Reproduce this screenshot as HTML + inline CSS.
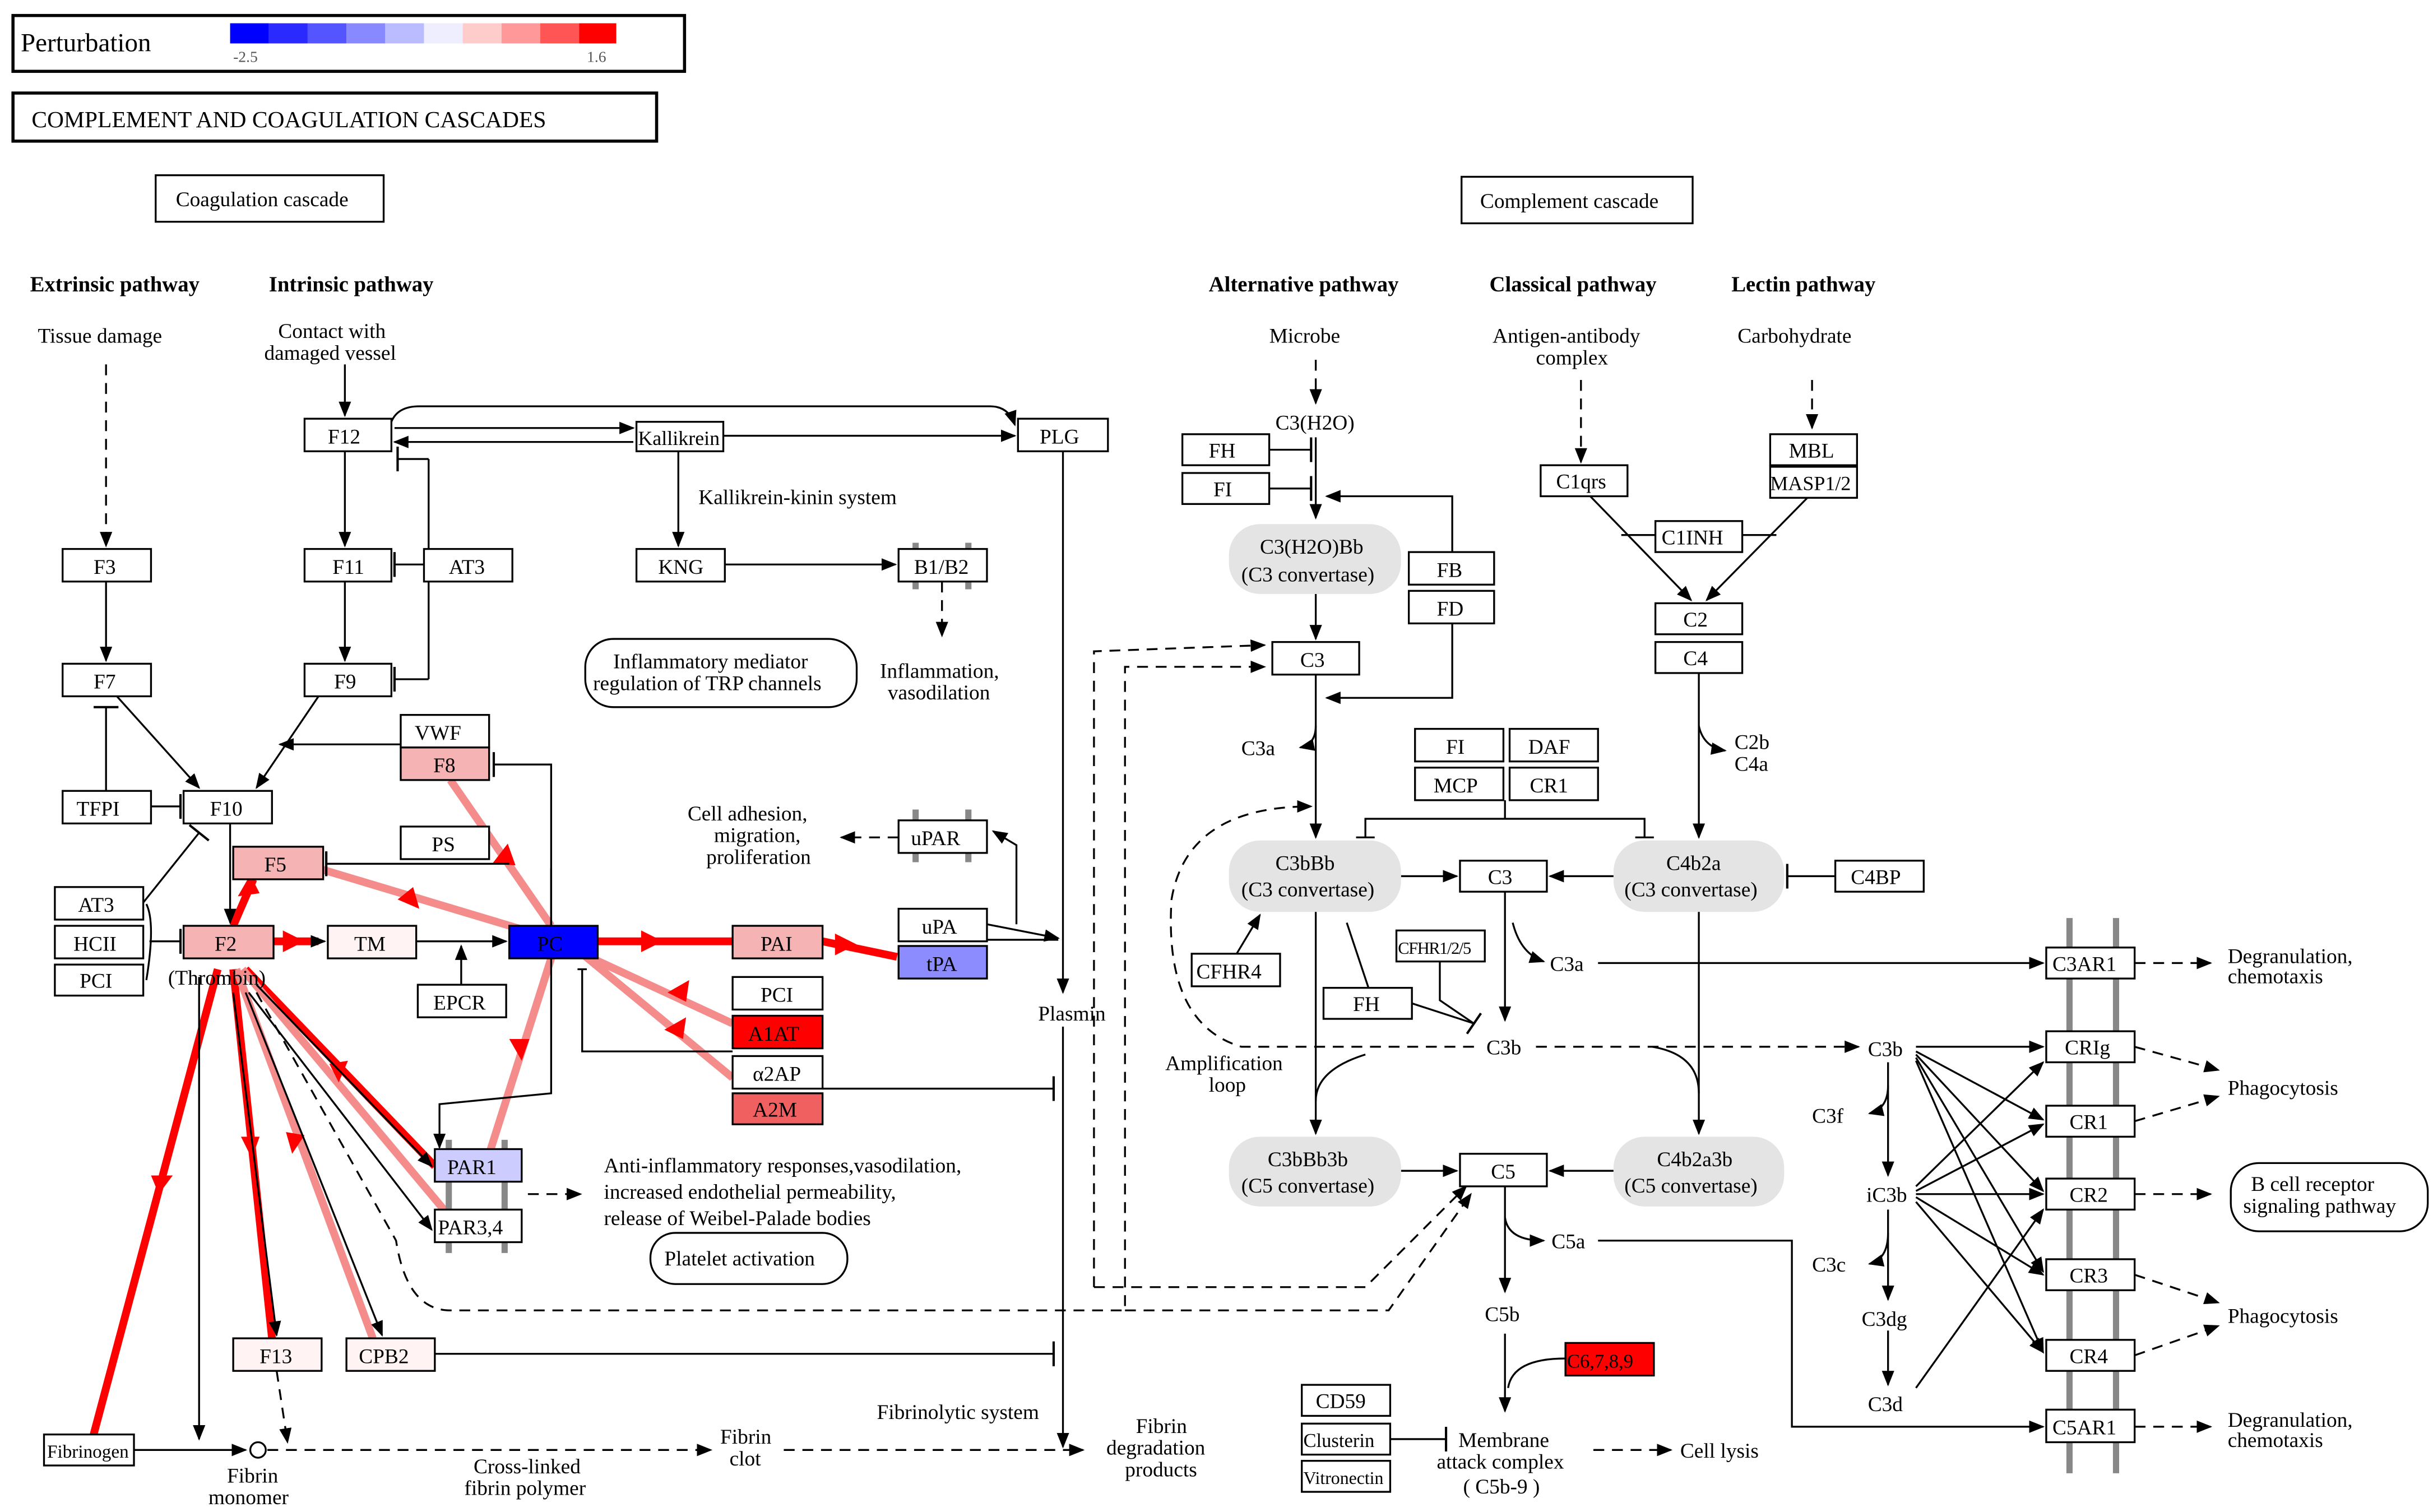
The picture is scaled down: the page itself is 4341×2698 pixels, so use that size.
<!DOCTYPE html>
<html><head><meta charset="utf-8"><style>
html,body{margin:0;padding:0;background:#fff;}
svg{display:block;}
text{font-family:"Liberation Serif",serif;font-size:13.5px;fill:#000;}
.n{fill:#fff;stroke:#000;stroke-width:1.2;}
.l{stroke:#000;stroke-width:1.2;fill:none;}
.d{stroke:#000;stroke-width:1.2;fill:none;stroke-dasharray:7,5;}
.r{stroke:#f00;stroke-width:5;fill:none;}
.p{stroke:#f48c8c;stroke-width:5;fill:none;}
.g{fill:#e4e4e4;}
.m{stroke:#888;stroke-width:4;}
.b{font-weight:bold;font-size:14px;}
</style></head><body>
<svg width="4341" height="2698" viewBox="0 0 1568 975" xmlns="http://www.w3.org/2000/svg">
<defs>
<marker id="a" markerWidth="10" markerHeight="10" refX="9" refY="5" orient="auto" markerUnits="userSpaceOnUse"><path d="M0,1 L10,5 L0,9 z" fill="#000"/></marker>
<marker id="t" markerWidth="4" markerHeight="16" refX="2" refY="8" orient="auto" markerUnits="userSpaceOnUse"><path d="M2,0 L2,16" stroke="#000" stroke-width="1.5"/></marker>
</defs>
<rect x="0" y="0" width="1568" height="975" fill="#fff"/>
<!-- legend -->
<rect x="8" y="10" width="433" height="36" class="n" style="stroke-width:2"/>
<text x="13" y="33" style="font-size:17px">Perturbation</text>
<rect x="148" y="15" width="25" height="13" fill="#0000ff"/><rect x="173" y="15" width="25" height="13" fill="#2a2aff"/><rect x="198" y="15" width="25" height="13" fill="#5555ff"/><rect x="223" y="15" width="25" height="13" fill="#8888ff"/><rect x="248" y="15" width="25" height="13" fill="#bbbbff"/><rect x="273" y="15" width="25" height="13" fill="#eeeeff"/><rect x="298" y="15" width="25" height="13" fill="#ffcccc"/><rect x="323" y="15" width="25" height="13" fill="#ff9999"/><rect x="348" y="15" width="25" height="13" fill="#ff5555"/><rect x="373" y="15" width="24" height="13" fill="#ff0000"/>
<text x="150" y="40" style="font-size:10px;fill:#555">-2.5</text><text x="378" y="40" style="font-size:10px;fill:#555">1.6</text>
<rect x="8" y="60" width="415" height="31" class="n" style="stroke-width:2"/>
<text x="20" y="82" style="font-size:15px">COMPLEMENT AND COAGULATION CASCADES</text>
<rect x="100" y="113" width="147" height="30" class="n"/><text x="113" y="133">Coagulation cascade</text>
<rect x="942" y="114" width="149" height="30" class="n"/><text x="954" y="134">Complement cascade</text>
<text x="19" y="188" class="b">Extrinsic pathway</text><text x="173" y="188" class="b">Intrinsic pathway</text>
<text x="779" y="188" class="b">Alternative pathway</text><text x="960" y="188" class="b">Classical pathway</text><text x="1116" y="188" class="b">Lectin pathway</text>
<text x="24" y="221">Tissue damage</text>
<text x="179" y="218">Contact with</text><text x="170" y="232">damaged vessel</text>
<text x="818" y="221">Microbe</text>
<text x="962" y="221">Antigen-antibody</text><text x="990" y="235">complex</text>
<text x="1120" y="221">Carbohydrate</text>

<!-- red/pink thick relations -->
<path class="p" d="M355,597 L290,503"/>
<path class="p" d="M355,605 L205,560"/>
<path class="r" d="M150,597 L163,567"/>
<path class="r" d="M176,607 L205,607"/>
<path class="r" d="M385,607 L472,607"/>
<path class="r" d="M530,607 L578,617"/>
<path class="p" d="M375,615 L472,660"/>
<path class="p" d="M375,615 L472,695"/>
<path class="p" d="M355,618 L310,760"/>
<path class="r" d="M140,625 L60,925"/>
<path class="r" d="M150,625 L175,863"/>
<path class="p" d="M152,625 L240,863"/>
<path class="r" d="M158,625 L280,752"/>
<path class="p" d="M156,625 L290,785"/>
<!-- red arrowheads -->
<g fill="#f00">
<path d="M97,758 l14,0 -9,12z"/><path d="M155,733 l12,0 -5,14z"/><path d="M184,730 l12,2 -8,12z"/><path d="M212,686 l12,-2 -6,14z"/>
<path d="M182,600 l14,7 -14,7z"/><path d="M413,600 l14,7 -14,7z"/><path d="M538,602 l14,7 -14,7z"/>
<path d="M270,586 l-14,-6 10,-8z"/><path d="M153,578 l8,-14 6,12z"/><path d="M317,557 l10,-13 5,14z"/>
<path d="M430,640 l14,-8 -2,14z"/><path d="M428,664 l14,-8 -2,14z"/><path d="M328,670 l8,14 5,-14z"/>
</g>

<!-- left black lines -->
<path class="d" d="M68,235 L68,352" marker-end="url(#a)"/>
<path class="l" d="M68,375 L68,426" marker-end="url(#a)"/>
<path class="l" d="M75,449 L128,508" marker-end="url(#a)"/>
<path class="l" d="M205,449 L165,508" marker-end="url(#a)"/>
<path class="l" d="M68,510 L68,456" marker-end="url(#t)"/>
<path class="l" d="M97,520 L116,520" marker-end="url(#t)"/>
<path class="l" d="M148,531 L148,595" marker-end="url(#a)"/>
<path class="l" d="M92,582 L128,537" marker-end="url(#t)"/>
<path class="l" d="M94,583 Q100,595 94,632 M96,607 L116,607" marker-end="url(#t)"/>
<path class="l" d="M222,235 L222,268" marker-end="url(#a)"/>
<path class="l" d="M222,291 L222,352" marker-end="url(#a)"/>
<path class="l" d="M222,375 L222,426" marker-end="url(#a)"/>
<path class="l" d="M254,276 L408,276" marker-end="url(#a)"/>
<path class="l" d="M408,285 L254,285" marker-end="url(#a)"/>
<path class="l" d="M252,272 Q256,262 270,262 L638,262 Q650,262 654,274" marker-end="url(#a)"/>
<path class="l" d="M466,281 L654,281" marker-end="url(#a)"/>
<path class="l" d="M437,291 L437,352" marker-end="url(#a)"/>
<path class="l" d="M467,364 L577,364" marker-end="url(#a)"/>
<path class="d" d="M607,375 L607,410" marker-end="url(#a)"/>
<path class="l" d="M276,296 L276,438 M276,296 L256,296" marker-end="url(#t)"/>
<path class="l" d="M273,364 L254,364" marker-end="url(#t)"/>
<path class="l" d="M276,438 L254,438" marker-end="url(#t)"/>
<path class="l" d="M258,480 L180,480" marker-end="url(#a)"/>
<path class="l" d="M355,597 L355,493 L318,493" marker-end="url(#t)"/>
<path class="l" d="M328,557 L210,557" marker-end="url(#t)"/>
<path class="l" d="M200,607 L209,607" marker-end="url(#a)"/>
<path class="l" d="M268,607 L326,607" marker-end="url(#a)"/>
<path class="l" d="M297,635 L297,610" marker-end="url(#a)"/>
<path class="l" d="M355,560 L355,705 L283,712 L283,740" marker-end="url(#a)"/>
<path class="l" d="M375,625 L375,678 L472,678" />
<path class="l" d="M372,625 L378,625"/>
<path class="l" d="M530,702 L679,702" marker-end="url(#t)"/>
<path class="l" d="M636,596 L682,605" marker-end="url(#a)"/>
<path class="l" d="M636,606 L682,606"/>
<path class="l" d="M655,596 L655,545 L640,536" marker-end="url(#a)"/>
<path class="d" d="M579,540 L542,540" marker-end="url(#a)"/>
<path class="l" d="M685,291 L685,640" marker-end="url(#a)"/>
<path class="l" d="M685,662 L685,933" marker-end="url(#a)"/>
<path class="d" d="M340,770 L374,770" marker-end="url(#a)"/>
<path class="l" d="M128,630 L128,928" marker-end="url(#a)"/>
<path class="l" d="M150,640 L178,861" marker-end="url(#a)"/>
<path class="l" d="M158,640 L246,861" marker-end="url(#a)"/>
<path class="l" d="M160,640 L278,793" marker-end="url(#a)"/>
<path class="l" d="M165,635 L278,752" marker-end="url(#a)"/>
<path class="d" d="M165,640 L255,800 Q262,845 290,845 L725,845 L725,430 L815,430" marker-end="url(#a)"/>
<path class="d" d="M705,830 L705,420 L815,416" marker-end="url(#a)"/>
<path class="d" d="M705,830 L880,830 L945,765" marker-end="url(#a)"/>
<path class="d" d="M725,845 L895,845 L948,770" marker-end="url(#a)"/>
<path class="l" d="M280,873 L679,873" marker-end="url(#t)"/>
<path class="d" d="M178,884 L185,930" marker-end="url(#a)"/>
<path class="l" d="M86,935 L158,935" marker-end="url(#a)"/>
<circle cx="166" cy="935" r="5" fill="#fff" stroke="#000" stroke-width="1.2"/>
<path class="d" d="M172,935 L458,935" marker-end="url(#a)"/>
<path class="d" d="M505,935 L698,935" marker-end="url(#a)"/>

<!-- membrane bars left -->
<path class="m" d="M590,350 L590,380 M624,350 L624,380 M590,522 L590,556 M624,522 L624,556 M289,735 L289,808 M325,735 L325,808"/>

<!-- left nodes -->
<g>
<rect x="196" y="270" width="56" height="21" class="n"/><text x="211" y="286">F12</text>
<rect x="410" y="272" width="56" height="19" class="n"/><text x="411" y="287" style="font-size:13px">Kallikrein</text>
<rect x="656" y="270" width="58" height="21" class="n"/><text x="670" y="286">PLG</text>
<rect x="40" y="354" width="57" height="21" class="n"/><text x="60" y="370">F3</text>
<rect x="196" y="354" width="56" height="21" class="n"/><text x="214" y="370">F11</text>
<rect x="273" y="354" width="57" height="21" class="n"/><text x="289" y="370">AT3</text>
<rect x="410" y="354" width="57" height="21" class="n"/><text x="424" y="370">KNG</text>
<rect x="579" y="354" width="57" height="21" class="n"/><text x="589" y="370">B1/B2</text>
<rect x="40" y="428" width="57" height="21" class="n"/><text x="60" y="444">F7</text>
<rect x="196" y="428" width="56" height="21" class="n"/><text x="215" y="444">F9</text>
<rect x="258" y="461" width="57" height="21" class="n"/><text x="267" y="477">VWF</text>
<rect x="258" y="482" width="57" height="21" class="n" style="fill:#f5b3b3"/><text x="279" y="498">F8</text>
<rect x="40" y="510" width="57" height="21" class="n"/><text x="49" y="526">TFPI</text>
<rect x="118" y="510" width="57" height="21" class="n"/><text x="135" y="526">F10</text>
<rect x="258" y="533" width="57" height="21" class="n"/><text x="278" y="549">PS</text>
<rect x="150" y="546" width="58" height="21" class="n" style="fill:#f5b3b3"/><text x="170" y="562">F5</text>
<rect x="579" y="529" width="57" height="21" class="n"/><text x="587" y="545">uPAR</text>
<rect x="35" y="572" width="57" height="21" class="n"/><text x="50" y="588">AT3</text>
<rect x="35" y="597" width="57" height="21" class="n"/><text x="47" y="613">HCII</text>
<rect x="35" y="622" width="57" height="20" class="n"/><text x="51" y="637">PCI</text>
<rect x="118" y="597" width="58" height="21" class="n" style="fill:#f5b3b3"/><text x="138" y="613">F2</text>
<text x="108" y="635">(Thrombin)</text>
<rect x="211" y="597" width="57" height="21" class="n" style="fill:#fff3f3"/><text x="228" y="613">TM</text>
<rect x="328" y="597" width="57" height="21" class="n" style="fill:#0000ff"/><text x="346" y="613">PC</text>
<rect x="472" y="597" width="58" height="21" class="n" style="fill:#f5b3b3"/><text x="490" y="613">PAI</text>
<rect x="579" y="586" width="57" height="21" class="n"/><text x="594" y="602">uPA</text>
<rect x="579" y="610" width="57" height="21" class="n" style="fill:#8c8cff"/><text x="597" y="626">tPA</text>
<rect x="269" y="635" width="57" height="21" class="n"/><text x="279" y="651">EPCR</text>
<rect x="472" y="630" width="58" height="21" class="n"/><text x="490" y="646">PCI</text>
<rect x="472" y="655" width="58" height="21" class="n" style="fill:#ff0000"/><text x="482" y="671">A1AT</text>
<rect x="472" y="681" width="58" height="21" class="n"/><text x="485" y="697">α2AP</text>
<rect x="472" y="705" width="58" height="20" class="n" style="fill:#f06060"/><text x="485" y="720">A2M</text>
<rect x="280" y="741" width="56" height="21" class="n" style="fill:#ccccff"/><text x="288" y="757">PAR1</text>
<rect x="280" y="780" width="56" height="21" class="n"/><text x="282" y="796">PAR3,4</text>
<rect x="150" y="863" width="57" height="21" class="n" style="fill:#fff3f3"/><text x="167" y="879">F13</text>
<rect x="223" y="863" width="57" height="21" class="n" style="fill:#fff3f3"/><text x="231" y="879">CPB2</text>
<rect x="28" y="925" width="58" height="20" class="n"/><text x="30" y="940" style="font-size:12px">Fibrinogen</text>
</g>
<text x="450" y="325">Kallikrein-kinin system</text>
<rect x="377" y="412" width="175" height="44" rx="18" class="n"/><text x="395" y="431">Inflammatory mediator</text><text x="382" y="445">regulation of TRP channels</text>
<text x="567" y="437">Inflammation,</text><text x="572" y="451">vasodilation</text>
<text x="443" y="529">Cell adhesion,</text><text x="460" y="543">migration,</text><text x="455" y="557">proliferation</text>
<text x="669" y="658">Plasmin</text>
<text x="389" y="756">Anti-inflammatory responses,vasodilation,</text><text x="389" y="773">increased endothelial permeability,</text><text x="389" y="790">release of Weibel-Palade bodies</text>
<rect x="419" y="795" width="127" height="33" rx="16" class="n"/><text x="428" y="816">Platelet activation</text>
<text x="565" y="915">Fibrinolytic system</text>
<text x="146" y="956">Fibrin</text><text x="134" y="970">monomer</text>
<text x="305" y="950">Cross-linked</text><text x="299" y="964">fibrin polymer</text>
<text x="464" y="931">Fibrin</text><text x="470" y="945">clot</text>
<text x="732" y="924">Fibrin</text><text x="713" y="938">degradation</text><text x="725" y="952">products</text>

<!-- right side lines -->
<path class="d" d="M848,232 L848,260" marker-end="url(#a)"/>
<path class="l" d="M848,282 L848,334" marker-end="url(#a)"/>
<path class="l" d="M818,290 L845,290" marker-end="url(#t)"/>
<path class="l" d="M818,315 L845,315" marker-end="url(#t)"/>
<path class="l" d="M936,356 L936,320 L855,320" marker-end="url(#a)"/>
<path class="l" d="M936,402 L936,450 L855,450" marker-end="url(#a)"/>
<path class="l" d="M848,383 L848,412" marker-end="url(#a)"/>
<path class="l" d="M848,435 L848,540" marker-end="url(#a)"/>
<path class="l" d="M848,468 Q848,480 838,482" marker-end="url(#a)"/>
<path class="d" d="M1019,245 L1019,298" marker-end="url(#a)"/>
<path class="d" d="M1168,245 L1168,276" marker-end="url(#a)"/>
<path class="l" d="M1025,320 L1090,387" marker-end="url(#a)"/>
<path class="l" d="M1165,321 L1100,387" marker-end="url(#a)"/>
<path class="l" d="M1045,345 L1067,345 M1123,345 L1145,345"/>
<path class="l" d="M1095,434 L1095,540" marker-end="url(#a)"/>
<path class="l" d="M1095,468 Q1098,482 1112,484" marker-end="url(#a)"/>
<path class="l" d="M970,516 L970,528 L880,528 L880,540 M970,528 L1060,528 L1060,540"/>
<path class="l" d="M874,540 L886,540 M1054,540 L1066,540"/>
<path class="l" d="M903,565 L939,565" marker-end="url(#a)"/>
<path class="l" d="M1040,565 L999,565" marker-end="url(#a)"/>
<path class="l" d="M1183,565 L1152,565" marker-end="url(#t)"/>
<path class="l" d="M970,575 L970,658" marker-end="url(#a)"/>
<path class="l" d="M975,595 Q980,615 995,620" marker-end="url(#a)"/>
<path class="l" d="M1030,621 L1317,621" marker-end="url(#a)"/>
<path class="d" d="M990,675 L1198,675" marker-end="url(#a)"/>
<path class="d" d="M950,675 L800,675 Q750,660 755,580 Q765,520 845,520" marker-end="url(#a)"/>
<path class="l" d="M797,615 L812,590" marker-end="url(#a)"/>
<path class="l" d="M868,595 L882,637 M928,620 L928,645 L950,660" marker-end="url(#t)"/>
<path class="l" d="M910,647 L950,660"/>
<path class="l" d="M848,588 L848,731" marker-end="url(#a)"/>
<path class="l" d="M1095,588 L1095,731" marker-end="url(#a)"/>
<path class="l" d="M880,680 Q848,690 848,710 M1065,675 Q1095,680 1095,705"/>
<path class="l" d="M903,755 L939,755" marker-end="url(#a)"/>
<path class="l" d="M1040,755 L999,755" marker-end="url(#a)"/>
<path class="l" d="M970,765 L970,833" marker-end="url(#a)"/>
<path class="l" d="M970,785 Q972,800 995,800" marker-end="url(#a)"/>
<path class="l" d="M1030,800 L1155,800 L1155,920 L1317,920" marker-end="url(#a)"/>
<path class="l" d="M970,860 L970,910" marker-end="url(#a)"/>
<path class="l" d="M1009,876 Q975,876 972,895"/>
<path class="l" d="M896,928 L932,928" marker-end="url(#t)"/>
<path class="d" d="M1027,935 L1077,935" marker-end="url(#a)"/>
<path class="l" d="M1217,685 L1217,758" marker-end="url(#a)"/>
<path class="l" d="M1217,700 Q1217,715 1205,718" marker-end="url(#a)"/>
<path class="l" d="M1217,780 L1217,838" marker-end="url(#a)"/>
<path class="l" d="M1217,795 Q1217,812 1205,815" marker-end="url(#a)"/>
<path class="l" d="M1217,858 L1217,893" marker-end="url(#a)"/>
<g class="l">
<path d="M1235,675 L1317,675" marker-end="url(#a)"/><path d="M1235,678 L1317,722" marker-end="url(#a)"/><path d="M1235,680 L1317,768" marker-end="url(#a)"/><path d="M1235,682 L1317,820" marker-end="url(#a)"/><path d="M1235,684 L1317,872" marker-end="url(#a)"/>
<path d="M1235,765 L1317,685" marker-end="url(#a)"/><path d="M1235,768 L1317,725" marker-end="url(#a)"/><path d="M1235,770 L1317,770" marker-end="url(#a)"/><path d="M1235,772 L1317,822" marker-end="url(#a)"/><path d="M1235,775 L1317,872" marker-end="url(#a)"/>
<path d="M1235,895 L1317,780" marker-end="url(#a)"/>
</g>
<path class="m" d="M1334,592 L1334,950 M1364,592 L1364,950"/>
<g class="d">
<path d="M1376,621 L1425,621" marker-end="url(#a)"/><path d="M1376,675 L1430,690" marker-end="url(#a)"/><path d="M1376,723 L1430,707" marker-end="url(#a)"/><path d="M1376,770 L1425,770" marker-end="url(#a)"/><path d="M1376,822 L1430,840" marker-end="url(#a)"/><path d="M1376,874 L1430,855" marker-end="url(#a)"/><path d="M1376,920 L1425,920" marker-end="url(#a)"/>
</g>

<!-- right nodes -->
<text x="822" y="277">C3(H2O)</text>
<rect x="762" y="280" width="56" height="20" class="n"/><text x="779" y="295">FH</text>
<rect x="762" y="305" width="56" height="20" class="n"/><text x="782" y="320">FI</text>
<rect x="792" y="338" width="111" height="45" rx="20" class="g"/><text x="812" y="357">C3(H2O)Bb</text><text x="800" y="375">(C3 convertase)</text>
<rect x="908" y="356" width="55" height="21" class="n"/><text x="926" y="372">FB</text>
<rect x="908" y="381" width="55" height="21" class="n"/><text x="926" y="397">FD</text>
<rect x="820" y="414" width="56" height="21" class="n"/><text x="838" y="430">C3</text>
<rect x="993" y="300" width="56" height="20" class="n"/><text x="1003" y="315">C1qrs</text>
<rect x="1067" y="336" width="56" height="20" class="n"/><text x="1071" y="351">C1INH</text>
<rect x="1141" y="280" width="56" height="20" class="n"/><text x="1153" y="295">MBL</text>
<rect x="1141" y="301" width="56" height="20" class="n"/><text x="1141" y="316" style="font-size:13px">MASP1/2</text>
<rect x="1067" y="389" width="56" height="20" class="n"/><text x="1085" y="404">C2</text>
<rect x="1067" y="414" width="56" height="20" class="n"/><text x="1085" y="429">C4</text>
<text x="800" y="487">C3a</text><text x="1118" y="483">C2b</text><text x="1118" y="497">C4a</text>
<rect x="912" y="470" width="57" height="21" class="n"/><text x="932" y="486">FI</text>
<rect x="973" y="470" width="57" height="21" class="n"/><text x="985" y="486">DAF</text>
<rect x="912" y="495" width="57" height="21" class="n"/><text x="924" y="511">MCP</text>
<rect x="973" y="495" width="57" height="21" class="n"/><text x="986" y="511">CR1</text>
<rect x="792" y="542" width="111" height="46" rx="20" class="g"/><text x="822" y="561">C3bBb</text><text x="800" y="578">(C3 convertase)</text>
<rect x="941" y="555" width="56" height="20" class="n"/><text x="959" y="570">C3</text>
<rect x="1040" y="542" width="110" height="46" rx="20" class="g"/><text x="1074" y="561">C4b2a</text><text x="1047" y="578">(C3 convertase)</text>
<rect x="1183" y="555" width="57" height="20" class="n"/><text x="1193" y="570">C4BP</text>
<rect x="768" y="615" width="57" height="21" class="n"/><text x="771" y="631">CFHR4</text>
<rect x="900" y="600" width="57" height="20" class="n"/><text x="901" y="615" style="font-size:11px;letter-spacing:-0.5px">CFHR1/2/5</text>
<rect x="853" y="637" width="57" height="20" class="n"/><text x="872" y="652">FH</text>
<text x="999" y="626">C3a</text>
<text x="958" y="680">C3b</text>
<text x="751" y="690">Amplification</text><text x="779" y="704">loop</text>
<rect x="792" y="733" width="111" height="45" rx="20" class="g"/><text x="817" y="752">C3bBb3b</text><text x="800" y="769">(C5 convertase)</text>
<rect x="941" y="744" width="56" height="21" class="n"/><text x="961" y="760">C5</text>
<rect x="1040" y="733" width="110" height="45" rx="20" class="g"/><text x="1068" y="752">C4b2a3b</text><text x="1047" y="769">(C5 convertase)</text>
<text x="1000" y="805">C5a</text><text x="957" y="852">C5b</text>
<rect x="1009" y="866" width="57" height="21" class="n" style="fill:#ff0000"/><text x="1010" y="882" style="font-size:12.5px">C6,7,8,9</text>
<rect x="839" y="893" width="57" height="20" class="n"/><text x="848" y="908">CD59</text>
<rect x="839" y="918" width="57" height="20" class="n"/><text x="840" y="933" style="font-size:12.5px">Clusterin</text>
<rect x="839" y="942" width="57" height="20" class="n"/><text x="840" y="957" style="font-size:11.5px">Vitronectin</text>
<text x="940" y="933">Membrane</text><text x="926" y="947">attack complex</text><text x="943" y="963">( C5b-9 )</text>
<text x="1083" y="940">Cell lysis</text>
<text x="1204" y="681">C3b</text><text x="1168" y="724">C3f</text><text x="1203" y="775">iC3b</text><text x="1168" y="820">C3c</text><text x="1200" y="855">C3dg</text><text x="1204" y="910">C3d</text>
<rect x="1319" y="611" width="57" height="20" class="n"/><text x="1323" y="626">C3AR1</text>
<rect x="1319" y="665" width="57" height="20" class="n"/><text x="1331" y="680">CRIg</text>
<rect x="1319" y="713" width="57" height="20" class="n"/><text x="1334" y="728">CR1</text>
<rect x="1319" y="760" width="57" height="20" class="n"/><text x="1334" y="775">CR2</text>
<rect x="1319" y="812" width="57" height="20" class="n"/><text x="1334" y="827">CR3</text>
<rect x="1319" y="864" width="57" height="20" class="n"/><text x="1334" y="879">CR4</text>
<rect x="1319" y="909" width="57" height="21" class="n"/><text x="1323" y="925">C5AR1</text>
<text x="1436" y="621">Degranulation,</text><text x="1436" y="634">chemotaxis</text>
<text x="1436" y="706">Phagocytosis</text>
<rect x="1438" y="750" width="127" height="44" rx="18" class="n"/><text x="1451" y="768">B cell receptor</text><text x="1446" y="782">signaling pathway</text>
<text x="1436" y="853">Phagocytosis</text>
<text x="1436" y="920">Degranulation,</text><text x="1436" y="933">chemotaxis</text>
</svg>
</body></html>
